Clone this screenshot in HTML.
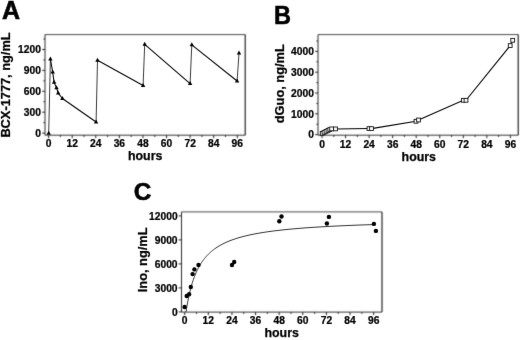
<!DOCTYPE html>
<html><head><meta charset="utf-8"><style>
html,body{margin:0;padding:0;background:#fff;}
body{width:520px;height:340px;overflow:hidden;font-family:"Liberation Sans",sans-serif;}
svg{display:block;}
</style></head><body>
<svg width="520" height="340" viewBox="0 0 520 340" font-family="Liberation Sans, sans-serif">
<rect width="520" height="340" fill="#fff"/>
<defs><filter id="bl" color-interpolation-filters="sRGB" filterUnits="userSpaceOnUse" x="0" y="0" width="520" height="340"><feConvolveMatrix order="3" kernelMatrix="0.0225 0.105 0.0225 0.105 0.49 0.105 0.0225 0.105 0.0225" divisor="1" edgeMode="duplicate" preserveAlpha="false"/></filter><filter id="bt" color-interpolation-filters="sRGB" filterUnits="userSpaceOnUse" x="0" y="0" width="520" height="340"><feConvolveMatrix order="3" kernelMatrix="0.0036 0.0528 0.0036 0.0528 0.7744 0.0528 0.0036 0.0528 0.0036" divisor="1" edgeMode="none" preserveAlpha="false"/></filter></defs>
<g filter="url(#bl)">
<rect width="520" height="340" fill="#fff"/>
<line x1="45" y1="34.6" x2="245.2" y2="34.6" stroke="#4a4a4a" stroke-width="1.0"/>
<line x1="45" y1="135.2" x2="245.2" y2="135.2" stroke="#333" stroke-width="1.0"/>
<line x1="45" y1="34.6" x2="45" y2="135.2" stroke="#2a2a2a" stroke-width="1.0"/>
<line x1="245.2" y1="34.6" x2="245.2" y2="135.2" stroke="#1a1a1a" stroke-width="1.15"/>
<line x1="42.2" y1="133.1" x2="45" y2="133.1" stroke="#222" stroke-width="1"/>
<line x1="43.4" y1="122.65" x2="45" y2="122.65" stroke="#222" stroke-width="1"/>
<line x1="42.2" y1="112.2" x2="45" y2="112.2" stroke="#222" stroke-width="1"/>
<line x1="43.4" y1="101.75" x2="45" y2="101.75" stroke="#222" stroke-width="1"/>
<line x1="42.2" y1="91.3" x2="45" y2="91.3" stroke="#222" stroke-width="1"/>
<line x1="43.4" y1="80.85" x2="45" y2="80.85" stroke="#222" stroke-width="1"/>
<line x1="42.2" y1="70.4" x2="45" y2="70.4" stroke="#222" stroke-width="1"/>
<line x1="43.4" y1="59.95" x2="45" y2="59.95" stroke="#222" stroke-width="1"/>
<line x1="42.2" y1="49.5" x2="45" y2="49.5" stroke="#222" stroke-width="1"/>
<line x1="43.4" y1="39.05" x2="45" y2="39.05" stroke="#222" stroke-width="1"/>
<line x1="48.6" y1="135.2" x2="48.6" y2="138.2" stroke="#222" stroke-width="1"/>
<line x1="60.4" y1="135.2" x2="60.4" y2="137" stroke="#222" stroke-width="1"/>
<line x1="72.19" y1="135.2" x2="72.19" y2="138.2" stroke="#222" stroke-width="1"/>
<line x1="83.98" y1="135.2" x2="83.98" y2="137" stroke="#222" stroke-width="1"/>
<line x1="95.78" y1="135.2" x2="95.78" y2="138.2" stroke="#222" stroke-width="1"/>
<line x1="107.58" y1="135.2" x2="107.58" y2="137" stroke="#222" stroke-width="1"/>
<line x1="119.37" y1="135.2" x2="119.37" y2="138.2" stroke="#222" stroke-width="1"/>
<line x1="131.16" y1="135.2" x2="131.16" y2="137" stroke="#222" stroke-width="1"/>
<line x1="142.96" y1="135.2" x2="142.96" y2="138.2" stroke="#222" stroke-width="1"/>
<line x1="154.75" y1="135.2" x2="154.75" y2="137" stroke="#222" stroke-width="1"/>
<line x1="166.55" y1="135.2" x2="166.55" y2="138.2" stroke="#222" stroke-width="1"/>
<line x1="178.34" y1="135.2" x2="178.34" y2="137" stroke="#222" stroke-width="1"/>
<line x1="190.14" y1="135.2" x2="190.14" y2="138.2" stroke="#222" stroke-width="1"/>
<line x1="201.94" y1="135.2" x2="201.94" y2="137" stroke="#222" stroke-width="1"/>
<line x1="213.73" y1="135.2" x2="213.73" y2="138.2" stroke="#222" stroke-width="1"/>
<line x1="225.53" y1="135.2" x2="225.53" y2="137" stroke="#222" stroke-width="1"/>
<line x1="237.32" y1="135.2" x2="237.32" y2="138.2" stroke="#222" stroke-width="1"/>
<line x1="318" y1="34.6" x2="518.2" y2="34.6" stroke="#4a4a4a" stroke-width="1.0"/>
<line x1="318" y1="135.2" x2="518.2" y2="135.2" stroke="#333" stroke-width="1.0"/>
<line x1="318" y1="34.6" x2="318" y2="135.2" stroke="#2a2a2a" stroke-width="1.0"/>
<line x1="518.2" y1="34.6" x2="518.2" y2="135.2" stroke="#1a1a1a" stroke-width="1.15"/>
<line x1="315.2" y1="134.6" x2="318" y2="134.6" stroke="#222" stroke-width="1"/>
<line x1="316.4" y1="124.2" x2="318" y2="124.2" stroke="#222" stroke-width="1"/>
<line x1="315.2" y1="113.8" x2="318" y2="113.8" stroke="#222" stroke-width="1"/>
<line x1="316.4" y1="103.4" x2="318" y2="103.4" stroke="#222" stroke-width="1"/>
<line x1="315.2" y1="93" x2="318" y2="93" stroke="#222" stroke-width="1"/>
<line x1="316.4" y1="82.6" x2="318" y2="82.6" stroke="#222" stroke-width="1"/>
<line x1="315.2" y1="72.2" x2="318" y2="72.2" stroke="#222" stroke-width="1"/>
<line x1="316.4" y1="61.8" x2="318" y2="61.8" stroke="#222" stroke-width="1"/>
<line x1="315.2" y1="51.4" x2="318" y2="51.4" stroke="#222" stroke-width="1"/>
<line x1="316.4" y1="41" x2="318" y2="41" stroke="#222" stroke-width="1"/>
<line x1="322" y1="135.2" x2="322" y2="138.2" stroke="#222" stroke-width="1"/>
<line x1="333.77" y1="135.2" x2="333.77" y2="137" stroke="#222" stroke-width="1"/>
<line x1="345.55" y1="135.2" x2="345.55" y2="138.2" stroke="#222" stroke-width="1"/>
<line x1="357.32" y1="135.2" x2="357.32" y2="137" stroke="#222" stroke-width="1"/>
<line x1="369.1" y1="135.2" x2="369.1" y2="138.2" stroke="#222" stroke-width="1"/>
<line x1="380.88" y1="135.2" x2="380.88" y2="137" stroke="#222" stroke-width="1"/>
<line x1="392.65" y1="135.2" x2="392.65" y2="138.2" stroke="#222" stroke-width="1"/>
<line x1="404.43" y1="135.2" x2="404.43" y2="137" stroke="#222" stroke-width="1"/>
<line x1="416.2" y1="135.2" x2="416.2" y2="138.2" stroke="#222" stroke-width="1"/>
<line x1="427.98" y1="135.2" x2="427.98" y2="137" stroke="#222" stroke-width="1"/>
<line x1="439.75" y1="135.2" x2="439.75" y2="138.2" stroke="#222" stroke-width="1"/>
<line x1="451.52" y1="135.2" x2="451.52" y2="137" stroke="#222" stroke-width="1"/>
<line x1="463.3" y1="135.2" x2="463.3" y2="138.2" stroke="#222" stroke-width="1"/>
<line x1="475.08" y1="135.2" x2="475.08" y2="137" stroke="#222" stroke-width="1"/>
<line x1="486.85" y1="135.2" x2="486.85" y2="138.2" stroke="#222" stroke-width="1"/>
<line x1="498.62" y1="135.2" x2="498.62" y2="137" stroke="#222" stroke-width="1"/>
<line x1="510.4" y1="135.2" x2="510.4" y2="138.2" stroke="#222" stroke-width="1"/>
<line x1="181.5" y1="211.9" x2="382" y2="211.9" stroke="#4a4a4a" stroke-width="1.0"/>
<line x1="181.5" y1="312.1" x2="382" y2="312.1" stroke="#333" stroke-width="1.0"/>
<line x1="181.5" y1="211.9" x2="181.5" y2="312.1" stroke="#2a2a2a" stroke-width="1.0"/>
<line x1="382" y1="211.9" x2="382" y2="312.1" stroke="#1a1a1a" stroke-width="1.15"/>
<line x1="178.7" y1="311.9" x2="181.5" y2="311.9" stroke="#222" stroke-width="1"/>
<line x1="178.7" y1="287.9" x2="181.5" y2="287.9" stroke="#222" stroke-width="1"/>
<line x1="178.7" y1="263.9" x2="181.5" y2="263.9" stroke="#222" stroke-width="1"/>
<line x1="178.7" y1="239.9" x2="181.5" y2="239.9" stroke="#222" stroke-width="1"/>
<line x1="178.7" y1="215.9" x2="181.5" y2="215.9" stroke="#222" stroke-width="1"/>
<line x1="184.7" y1="312.1" x2="184.7" y2="315.1" stroke="#222" stroke-width="1"/>
<line x1="196.51" y1="312.1" x2="196.51" y2="313.9" stroke="#222" stroke-width="1"/>
<line x1="208.32" y1="312.1" x2="208.32" y2="315.1" stroke="#222" stroke-width="1"/>
<line x1="220.13" y1="312.1" x2="220.13" y2="313.9" stroke="#222" stroke-width="1"/>
<line x1="231.94" y1="312.1" x2="231.94" y2="315.1" stroke="#222" stroke-width="1"/>
<line x1="243.75" y1="312.1" x2="243.75" y2="313.9" stroke="#222" stroke-width="1"/>
<line x1="255.56" y1="312.1" x2="255.56" y2="315.1" stroke="#222" stroke-width="1"/>
<line x1="267.37" y1="312.1" x2="267.37" y2="313.9" stroke="#222" stroke-width="1"/>
<line x1="279.18" y1="312.1" x2="279.18" y2="315.1" stroke="#222" stroke-width="1"/>
<line x1="290.99" y1="312.1" x2="290.99" y2="313.9" stroke="#222" stroke-width="1"/>
<line x1="302.8" y1="312.1" x2="302.8" y2="315.1" stroke="#222" stroke-width="1"/>
<line x1="314.61" y1="312.1" x2="314.61" y2="313.9" stroke="#222" stroke-width="1"/>
<line x1="326.42" y1="312.1" x2="326.42" y2="315.1" stroke="#222" stroke-width="1"/>
<line x1="338.23" y1="312.1" x2="338.23" y2="313.9" stroke="#222" stroke-width="1"/>
<line x1="350.04" y1="312.1" x2="350.04" y2="315.1" stroke="#222" stroke-width="1"/>
<line x1="361.85" y1="312.1" x2="361.85" y2="313.9" stroke="#222" stroke-width="1"/>
<line x1="373.66" y1="312.1" x2="373.66" y2="315.1" stroke="#222" stroke-width="1"/>
</g>
<g filter="url(#bt)">
<text x="2" y="19" text-anchor="start" font-size="25" font-weight="bold" stroke="#000" stroke-width="0.6">A</text>
<text x="0" y="0" transform="translate(273.9,24.0) scale(0.94,1)" text-anchor="start" font-size="25" font-weight="bold" stroke="#000" stroke-width="0.6">B</text>
<text x="133.7" y="200.35" text-anchor="start" font-size="24.3" font-weight="bold" stroke="#000" stroke-width="0.6">C</text>
<text x="0" y="0" transform="translate(41,136.7) scale(0.97,1)" text-anchor="end" font-size="10.6" font-weight="bold" stroke="#000" stroke-width="0.25">0</text>
<text x="0" y="0" transform="translate(41,115.8) scale(0.97,1)" text-anchor="end" font-size="10.6" font-weight="bold" stroke="#000" stroke-width="0.25">300</text>
<text x="0" y="0" transform="translate(41,94.9) scale(0.97,1)" text-anchor="end" font-size="10.6" font-weight="bold" stroke="#000" stroke-width="0.25">600</text>
<text x="0" y="0" transform="translate(41,74) scale(0.97,1)" text-anchor="end" font-size="10.6" font-weight="bold" stroke="#000" stroke-width="0.25">900</text>
<text x="0" y="0" transform="translate(41,53.1) scale(0.97,1)" text-anchor="end" font-size="10.6" font-weight="bold" stroke="#000" stroke-width="0.25">1200</text>
<text x="0" y="0" transform="translate(48.6,146.8) scale(0.97,1)" text-anchor="middle" font-size="10.6" font-weight="bold" stroke="#000" stroke-width="0.25">0</text>
<text x="0" y="0" transform="translate(72.19,146.8) scale(0.97,1)" text-anchor="middle" font-size="10.6" font-weight="bold" stroke="#000" stroke-width="0.25">12</text>
<text x="0" y="0" transform="translate(95.78,146.8) scale(0.97,1)" text-anchor="middle" font-size="10.6" font-weight="bold" stroke="#000" stroke-width="0.25">24</text>
<text x="0" y="0" transform="translate(119.37,146.8) scale(0.97,1)" text-anchor="middle" font-size="10.6" font-weight="bold" stroke="#000" stroke-width="0.25">36</text>
<text x="0" y="0" transform="translate(142.96,146.8) scale(0.97,1)" text-anchor="middle" font-size="10.6" font-weight="bold" stroke="#000" stroke-width="0.25">48</text>
<text x="0" y="0" transform="translate(166.55,146.8) scale(0.97,1)" text-anchor="middle" font-size="10.6" font-weight="bold" stroke="#000" stroke-width="0.25">60</text>
<text x="0" y="0" transform="translate(190.14,146.8) scale(0.97,1)" text-anchor="middle" font-size="10.6" font-weight="bold" stroke="#000" stroke-width="0.25">72</text>
<text x="0" y="0" transform="translate(213.73,146.8) scale(0.97,1)" text-anchor="middle" font-size="10.6" font-weight="bold" stroke="#000" stroke-width="0.25">84</text>
<text x="0" y="0" transform="translate(237.32,146.8) scale(0.97,1)" text-anchor="middle" font-size="10.6" font-weight="bold" stroke="#000" stroke-width="0.25">96</text>
<text x="0" y="0" transform="translate(314,138.3) scale(0.97,1)" text-anchor="end" font-size="10.6" font-weight="bold" stroke="#000" stroke-width="0.25">0</text>
<text x="0" y="0" transform="translate(314,117.5) scale(0.97,1)" text-anchor="end" font-size="10.6" font-weight="bold" stroke="#000" stroke-width="0.25">1000</text>
<text x="0" y="0" transform="translate(314,96.7) scale(0.97,1)" text-anchor="end" font-size="10.6" font-weight="bold" stroke="#000" stroke-width="0.25">2000</text>
<text x="0" y="0" transform="translate(314,75.9) scale(0.97,1)" text-anchor="end" font-size="10.6" font-weight="bold" stroke="#000" stroke-width="0.25">3000</text>
<text x="0" y="0" transform="translate(314,55.1) scale(0.97,1)" text-anchor="end" font-size="10.6" font-weight="bold" stroke="#000" stroke-width="0.25">4000</text>
<text x="0" y="0" transform="translate(322,147.7) scale(0.97,1)" text-anchor="middle" font-size="10.6" font-weight="bold" stroke="#000" stroke-width="0.25">0</text>
<text x="0" y="0" transform="translate(345.55,147.7) scale(0.97,1)" text-anchor="middle" font-size="10.6" font-weight="bold" stroke="#000" stroke-width="0.25">12</text>
<text x="0" y="0" transform="translate(369.1,147.7) scale(0.97,1)" text-anchor="middle" font-size="10.6" font-weight="bold" stroke="#000" stroke-width="0.25">24</text>
<text x="0" y="0" transform="translate(392.65,147.7) scale(0.97,1)" text-anchor="middle" font-size="10.6" font-weight="bold" stroke="#000" stroke-width="0.25">36</text>
<text x="0" y="0" transform="translate(416.2,147.7) scale(0.97,1)" text-anchor="middle" font-size="10.6" font-weight="bold" stroke="#000" stroke-width="0.25">48</text>
<text x="0" y="0" transform="translate(439.75,147.7) scale(0.97,1)" text-anchor="middle" font-size="10.6" font-weight="bold" stroke="#000" stroke-width="0.25">60</text>
<text x="0" y="0" transform="translate(463.3,147.7) scale(0.97,1)" text-anchor="middle" font-size="10.6" font-weight="bold" stroke="#000" stroke-width="0.25">72</text>
<text x="0" y="0" transform="translate(486.85,147.7) scale(0.97,1)" text-anchor="middle" font-size="10.6" font-weight="bold" stroke="#000" stroke-width="0.25">84</text>
<text x="0" y="0" transform="translate(510.4,147.7) scale(0.97,1)" text-anchor="middle" font-size="10.6" font-weight="bold" stroke="#000" stroke-width="0.25">96</text>
<text x="0" y="0" transform="translate(177.6,315.6) scale(0.97,1)" text-anchor="end" font-size="10.6" font-weight="bold" stroke="#000" stroke-width="0.25">0</text>
<text x="0" y="0" transform="translate(177.6,291.6) scale(0.97,1)" text-anchor="end" font-size="10.6" font-weight="bold" stroke="#000" stroke-width="0.25">3000</text>
<text x="0" y="0" transform="translate(177.6,267.6) scale(0.97,1)" text-anchor="end" font-size="10.6" font-weight="bold" stroke="#000" stroke-width="0.25">6000</text>
<text x="0" y="0" transform="translate(177.6,243.6) scale(0.97,1)" text-anchor="end" font-size="10.6" font-weight="bold" stroke="#000" stroke-width="0.25">9000</text>
<text x="0" y="0" transform="translate(177.6,219.6) scale(0.97,1)" text-anchor="end" font-size="10.6" font-weight="bold" stroke="#000" stroke-width="0.25">12000</text>
<text x="0" y="0" transform="translate(184.7,323.5) scale(0.97,1)" text-anchor="middle" font-size="10.6" font-weight="bold" stroke="#000" stroke-width="0.25">0</text>
<text x="0" y="0" transform="translate(208.32,323.5) scale(0.97,1)" text-anchor="middle" font-size="10.6" font-weight="bold" stroke="#000" stroke-width="0.25">12</text>
<text x="0" y="0" transform="translate(231.94,323.5) scale(0.97,1)" text-anchor="middle" font-size="10.6" font-weight="bold" stroke="#000" stroke-width="0.25">24</text>
<text x="0" y="0" transform="translate(255.56,323.5) scale(0.97,1)" text-anchor="middle" font-size="10.6" font-weight="bold" stroke="#000" stroke-width="0.25">36</text>
<text x="0" y="0" transform="translate(279.18,323.5) scale(0.97,1)" text-anchor="middle" font-size="10.6" font-weight="bold" stroke="#000" stroke-width="0.25">48</text>
<text x="0" y="0" transform="translate(302.8,323.5) scale(0.97,1)" text-anchor="middle" font-size="10.6" font-weight="bold" stroke="#000" stroke-width="0.25">60</text>
<text x="0" y="0" transform="translate(326.42,323.5) scale(0.97,1)" text-anchor="middle" font-size="10.6" font-weight="bold" stroke="#000" stroke-width="0.25">72</text>
<text x="0" y="0" transform="translate(350.04,323.5) scale(0.97,1)" text-anchor="middle" font-size="10.6" font-weight="bold" stroke="#000" stroke-width="0.25">84</text>
<text x="0" y="0" transform="translate(373.66,323.5) scale(0.97,1)" text-anchor="middle" font-size="10.6" font-weight="bold" stroke="#000" stroke-width="0.25">96</text>
<text x="145.2" y="160.1" text-anchor="middle" font-size="12.4" font-weight="bold" stroke="#000" stroke-width="0.25">hours</text>
<text x="418.8" y="160.6" text-anchor="middle" font-size="12.4" font-weight="bold" stroke="#000" stroke-width="0.25">hours</text>
<text x="281.7" y="337.2" text-anchor="middle" font-size="12.4" font-weight="bold" stroke="#000" stroke-width="0.25">hours</text>
<text x="0" y="0" transform="translate(9.5,85) rotate(-90) scale(1.025,1)" text-anchor="middle" font-size="12.5" font-weight="bold" stroke="#000" stroke-width="0.25">BCX-1777, ng/mL</text>
<text x="0" y="0" transform="translate(284.2,83.75) rotate(-90) scale(1.025,1)" text-anchor="middle" font-size="12.5" font-weight="bold" stroke="#000" stroke-width="0.25">dGuo, ng/mL</text>
<text x="0" y="0" transform="translate(146.5,259.85) rotate(-90) scale(1.025,1)" text-anchor="middle" font-size="12.5" font-weight="bold" stroke="#000" stroke-width="0.25">Ino, ng/mL</text>
<line x1="48.7" y1="133.3" x2="50.4" y2="59" stroke="#3c3c3c" stroke-width="1.0"/>
<line x1="50.4" y1="59" x2="52.7" y2="72.1" stroke="#000" stroke-width="1.05" stroke-linecap="round"/>
<line x1="52.7" y1="72.1" x2="54.1" y2="82.4" stroke="#000" stroke-width="1.05" stroke-linecap="round"/>
<line x1="54.1" y1="82.4" x2="56.5" y2="87.9" stroke="#000" stroke-width="1.05" stroke-linecap="round"/>
<line x1="56.5" y1="87.9" x2="58.2" y2="93.2" stroke="#000" stroke-width="1.05" stroke-linecap="round"/>
<line x1="58.2" y1="93.2" x2="62.4" y2="98.5" stroke="#000" stroke-width="1.05" stroke-linecap="round"/>
<line x1="62.4" y1="98.5" x2="96.1" y2="122" stroke="#000" stroke-width="1.05" stroke-linecap="round"/>
<line x1="96.1" y1="122" x2="97.5" y2="60.3" stroke="#3c3c3c" stroke-width="1.0"/>
<line x1="97.5" y1="60.3" x2="143.1" y2="85.5" stroke="#000" stroke-width="1.05" stroke-linecap="round"/>
<line x1="143.1" y1="85.5" x2="144.7" y2="44.3" stroke="#3c3c3c" stroke-width="1.0"/>
<line x1="144.7" y1="44.3" x2="190.1" y2="83.6" stroke="#000" stroke-width="1.05" stroke-linecap="round"/>
<line x1="190.1" y1="83.6" x2="191.8" y2="44.8" stroke="#3c3c3c" stroke-width="1.0"/>
<line x1="191.8" y1="44.8" x2="237.1" y2="81" stroke="#000" stroke-width="1.05" stroke-linecap="round"/>
<line x1="237.1" y1="81" x2="239" y2="53" stroke="#3c3c3c" stroke-width="1.0"/>
<path d="M48.7,130.7 L50.9,134.7 L46.5,134.7 Z" fill="#000"/>
<path d="M50.4,56.4 L52.6,60.4 L48.2,60.4 Z" fill="#000"/>
<path d="M52.7,69.5 L54.9,73.5 L50.5,73.5 Z" fill="#000"/>
<path d="M54.1,79.8 L56.3,83.8 L51.9,83.8 Z" fill="#000"/>
<path d="M56.5,85.3 L58.7,89.3 L54.3,89.3 Z" fill="#000"/>
<path d="M58.2,90.6 L60.4,94.6 L56,94.6 Z" fill="#000"/>
<path d="M62.4,95.9 L64.6,99.9 L60.2,99.9 Z" fill="#000"/>
<path d="M96.1,119.4 L98.3,123.4 L93.9,123.4 Z" fill="#000"/>
<path d="M97.5,57.7 L99.7,61.7 L95.3,61.7 Z" fill="#000"/>
<path d="M143.1,82.9 L145.3,86.9 L140.9,86.9 Z" fill="#000"/>
<path d="M144.7,41.7 L146.9,45.7 L142.5,45.7 Z" fill="#000"/>
<path d="M190.1,81 L192.3,85 L187.9,85 Z" fill="#000"/>
<path d="M191.8,42.2 L194,46.2 L189.6,46.2 Z" fill="#000"/>
<path d="M237.1,78.4 L239.3,82.4 L234.9,82.4 Z" fill="#000"/>
<path d="M239,50.4 L241.2,54.4 L236.8,54.4 Z" fill="#000"/>
<polyline fill="none" stroke="#000" stroke-width="1.05" points="322.2,133.4 324,132.4 326,131.4 328,130.4 329.8,129.5 331.6,128.9 335.5,128.9 369,128.6 371.5,128.6 416,121.3 418.5,120 463.3,100.3 466,100.3 510.2,45.6 512.7,40.3"/>
<rect x="320.3" y="131.5" width="3.8" height="3.8" fill="#fff" stroke="#111" stroke-width="0.9"/>
<rect x="322.1" y="130.5" width="3.8" height="3.8" fill="#fff" stroke="#111" stroke-width="0.9"/>
<rect x="324.1" y="129.5" width="3.8" height="3.8" fill="#fff" stroke="#111" stroke-width="0.9"/>
<rect x="326.1" y="128.5" width="3.8" height="3.8" fill="#fff" stroke="#111" stroke-width="0.9"/>
<rect x="327.9" y="127.6" width="3.8" height="3.8" fill="#fff" stroke="#111" stroke-width="0.9"/>
<rect x="329.7" y="127" width="3.8" height="3.8" fill="#fff" stroke="#111" stroke-width="0.9"/>
<rect x="333.6" y="127" width="3.8" height="3.8" fill="#fff" stroke="#111" stroke-width="0.9"/>
<rect x="367.1" y="126.7" width="3.8" height="3.8" fill="#fff" stroke="#111" stroke-width="0.9"/>
<rect x="369.6" y="126.7" width="3.8" height="3.8" fill="#fff" stroke="#111" stroke-width="0.9"/>
<rect x="414.1" y="119.4" width="3.8" height="3.8" fill="#fff" stroke="#111" stroke-width="0.9"/>
<rect x="416.6" y="118.1" width="3.8" height="3.8" fill="#fff" stroke="#111" stroke-width="0.9"/>
<rect x="461.4" y="98.4" width="3.8" height="3.8" fill="#fff" stroke="#111" stroke-width="0.9"/>
<rect x="464.1" y="98.4" width="3.8" height="3.8" fill="#fff" stroke="#111" stroke-width="0.9"/>
<rect x="508.3" y="43.7" width="3.8" height="3.8" fill="#fff" stroke="#111" stroke-width="0.9"/>
<rect x="510.8" y="38.4" width="3.8" height="3.8" fill="#fff" stroke="#111" stroke-width="0.9"/>
<polyline fill="none" stroke="#2a2a2a" stroke-width="0.95" points="186,312 186.5,308.76 187,305.74 187.5,302.91 188,300.25 188.5,297.76 189,295.42 189.5,293.21 190,291.12 190.5,289.14 191,287.27 191.5,285.5 192,283.81 192.5,282.2 193,280.68 193.5,279.22 194,277.83 194.5,276.5 195,275.23 195.5,274.01 196,272.85 196.5,271.73 197,270.65 197.5,269.62 198,268.63 198.5,267.67 199,266.76 199.5,265.87 200,265.01 200.5,264.19 201,263.39 201.5,262.63 202,261.88 202.5,261.16 203,260.47 203.5,259.79 204,259.14 204.5,258.51 205,257.9 205.5,257.3 206,256.72 206.5,256.16 207,255.62 207.5,255.09 208,254.57 208.5,254.07 209,253.59 209.5,253.11 210,252.65 210.5,252.2 211,251.76 211.5,251.34 212,250.92 212.5,250.51 213,250.12 213.5,249.73 214,249.35 214.5,248.98 215,248.62 217,247.27 219,246.02 221,244.88 223,243.83 225,242.85 227,241.95 229,241.11 231,240.33 233,239.6 235,238.91 237,238.27 239,237.67 241,237.1 243,236.56 245,236.05 247,235.57 249,235.12 251,234.68 253,234.27 255,233.88 257,233.51 259,233.15 261,232.81 263,232.49 265,232.18 267,231.88 269,231.59 271,231.32 273,231.06 275,230.8 277,230.56 279,230.33 281,230.1 283,229.88 285,229.67 287,229.47 289,229.27 291,229.09 293,228.9 295,228.73 297,228.55 299,228.39 301,228.23 303,228.07 305,227.92 307,227.78 309,227.63 311,227.49 313,227.36 315,227.23 317,227.1 319,226.98 321,226.86 323,226.74 325,226.63 327,226.52 329,226.41 331,226.3 333,226.2 335,226.1 337,226 339,225.91 341,225.81 343,225.72 345,225.63 347,225.55 349,225.46 351,225.38 353,225.3 355,225.22 357,225.14 359,225.07 361,224.99 363,224.92 365,224.85 367,224.78 369,224.71 371,224.64 373,224.58"/>
<circle cx="184.6" cy="307" r="2.2" fill="#000"/>
<circle cx="186.7" cy="296" r="2.2" fill="#000"/>
<circle cx="189.1" cy="294.2" r="2.2" fill="#000"/>
<circle cx="190.8" cy="287" r="2.2" fill="#000"/>
<circle cx="192.6" cy="274.1" r="2.2" fill="#000"/>
<circle cx="194.4" cy="269.4" r="2.2" fill="#000"/>
<circle cx="198.5" cy="265" r="2.2" fill="#000"/>
<circle cx="232" cy="265" r="2.2" fill="#000"/>
<circle cx="234.2" cy="262" r="2.2" fill="#000"/>
<circle cx="279.3" cy="221.3" r="2.2" fill="#000"/>
<circle cx="281.5" cy="216.5" r="2.2" fill="#000"/>
<circle cx="326.9" cy="223.5" r="2.2" fill="#000"/>
<circle cx="328.9" cy="216.9" r="2.2" fill="#000"/>
<circle cx="373.9" cy="223.9" r="2.2" fill="#000"/>
<circle cx="375.9" cy="230.9" r="2.2" fill="#000"/>
</g></svg>
</body></html>
